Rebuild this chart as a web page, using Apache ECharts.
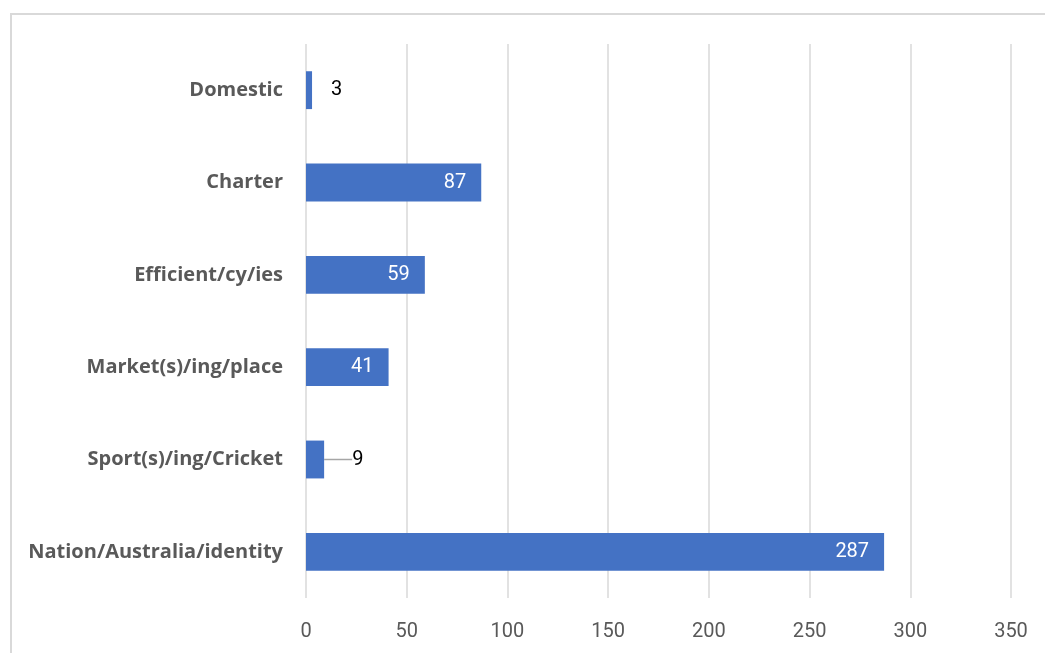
<!DOCTYPE html>
<html><head><meta charset="utf-8">
<script src="https://cdn.jsdelivr.net/npm/echarts@6/dist/echarts.min.js"></script>
<style>html,body{margin:0;padding:0;background:#fff}#c{width:1045px;height:653px}</style>
</head><body><div id="c"></div>
<script>
const categories = ["Nation/Australia/identity","Sport(s)/ing/Cricket","Market(s)/ing/place","Efficient/cy/ies","Charter","Domestic"];
const values = [287, 9, 41, 59, 87, 3];
const xTicks = [0, 50, 100, 150, 200, 250, 300, 350];

const chart = echarts.init(document.getElementById('c'), null, {renderer:'canvas'});
const data = values.map(function(v, i){
  const small = v < 20;
  return {
    value: v,
    label: small ? {position:'right', color:'#000', distance: i === 1 ? 28 : 19} : {position:'insideRight', color:'#fff', distance: 15},
    labelLine: {show: i === 1}
  };
});
chart.setOption({
  animation:false,
  graphic:[{type:'rect', shape:{x:11, y:14, width:1100, height:700}, style:{fill:'none', stroke:'#d9d9d9', lineWidth:2}}],
  grid:{left:306, right:34, top:44, bottom:55},
  xAxis:{type:'value', min:xTicks[0], max:xTicks[xTicks.length-1], interval:50,
    axisLine:{show:false}, axisTick:{show:false},
    splitLine:{lineStyle:{color:'#d9d9d9', width:1.5}},
    axisLabel:{color:'#595959', fontSize:20, fontFamily:'"Liberation Sans Narrow","Roboto",sans-serif', margin:24}},
  yAxis:{type:'category', data:categories, axisLine:{show:false}, axisTick:{show:false},
    axisLabel:{color:'#595959', fontSize:20, fontWeight:'bold', fontFamily:'"Open Sans",sans-serif', margin:23}},
  series:[{type:'bar', data:data, barWidth:'41%', itemStyle:{color:'#4472C4'},
    label:{show:true, fontSize:20, fontFamily:'"Roboto",sans-serif'},
    labelLine:{lineStyle:{color:'#a6a6a6', width:1.5}},
    labelLayout:function(p){ return {}; }
  }]
});
</script></body></html>
